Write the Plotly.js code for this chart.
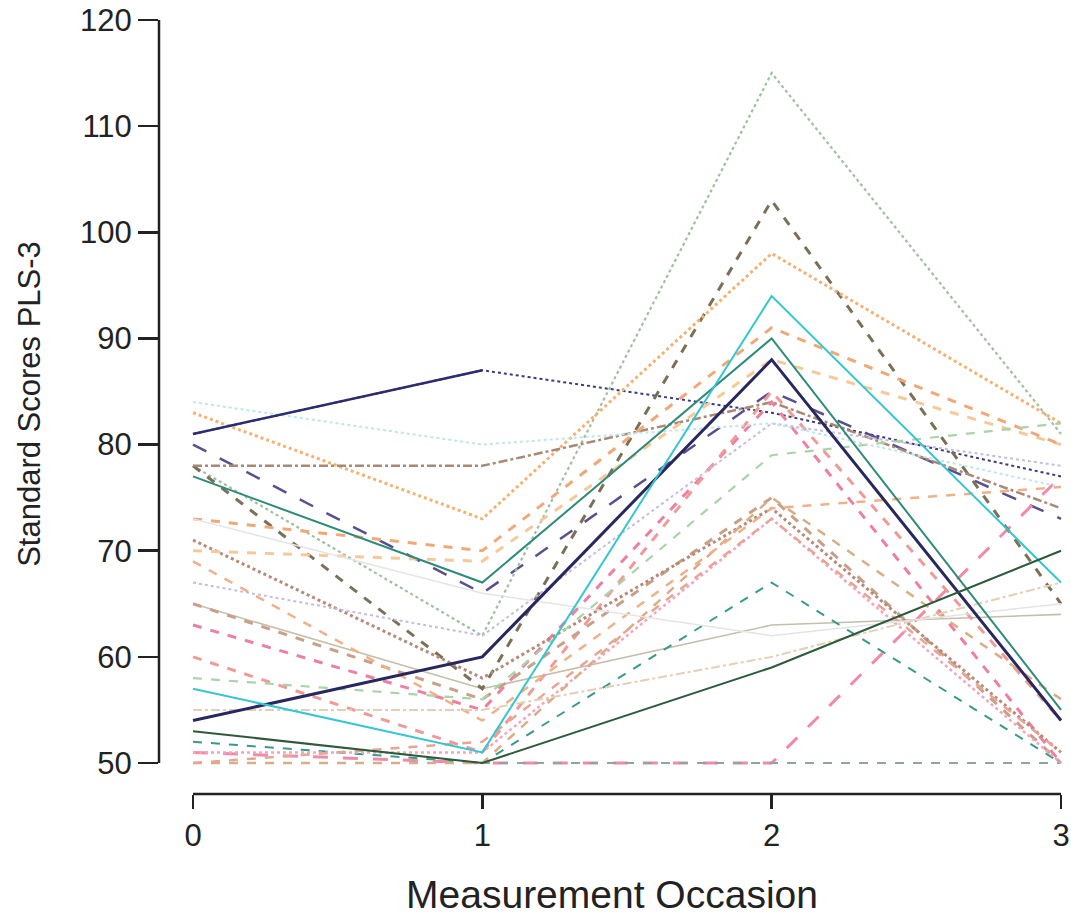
<!DOCTYPE html>
<html>
<head>
<meta charset="utf-8">
<script src="https://cdn.plot.ly/plotly-3.0.1.min.js"></script>
<style>html,body{margin:0;padding:0;background:#fff;}#chart{width:1071px;height:916px;}</style>
</head>
<body>
<div id="chart"></div>
<script>
// Measurement occasions (x)
const occasions = [0, 1, 2, 3];
const yTicks = [50, 60, 70, 80, 90, 100, 110, 120];

// Individual trajectories: standard scores PLS-3 at occasions 0..3
const s01 = [81, 87, null, null];
const s02 = [81, 87, 83, 77];
const s03 = [54, 60, 88, 54];
const s04 = [80, 66, 85, 73];
const s05 = [77, 67, 90, 55];
const s06 = [57, 51, 94, 67];
const s07 = [53, 50, 59, 70];
const s08 = [65, 57, 63, 64];
const s09 = [52, 50, 67, 50];
const s10 = [51, 50, 50, 77];
const s11 = [50, 50, 50, 50];
const s12 = [78, 62, 115, 81];
const s13 = [78, 57, 103, 65];
const s14 = [83, 73, 98, 82];
const s15 = [78, 78, 84, 74];
const s16 = [63, 55, 84, 50];
const s17 = [60, 51, 85, 54];
const s18 = [65, 56, 75, 50];
const s19 = [71, 58, 74, 51];
const s20 = [67, 62, 82, 78];
const s21 = [70, 69, 88, 80];
const s22 = [73, 70, 91, 80];
const s23 = [58, 56, 79, 82];
const s24 = [51, 51, 73, 50];
const s25 = [50, 50, 75, 56];
const s26 = [50, 52, 73, 51];
const s27 = [84, 80, 82, 76];
const s28 = [69, 54, 74, 76];
const s29 = [55, 55, 60, 67];
const s30 = [73, 66, 62, 65];

const series = [s01,s02,s03,s04,s05,s06,s07,s08,s09,s10,s11,s12,s13,s14,s15,
                s16,s17,s18,s19,s20,s21,s22,s23,s24,s25,s26,s27,s28,s29,s30];

// styles (separate from data)
const colors = ['#2c2c6e','#3a3a80','#28285e','#5a4f8e','#2e8b7a','#36c6d0','#2d5a3a','#c4beaa',
                '#3a9a8a','#f08aa8','#8fa5a5','#9fbf9f','#7a7058','#f2b272','#a88a74',
                '#ee7fa0','#f09a98','#c8a088','#b58a78','#c4bce2','#f7c898','#f0a878','#a8d4a8',
                '#f2a6bc','#d8ae86','#e8a494','#bfe6e8','#f0b088','#e2d0b6','#e4e4e4'];
const dashes = ['solid','dot','solid','longdash','solid','solid','solid','solid',
                'dash','longdash','dash','dot','dash','dot','dashdot',
                'dash','dash','dash','dot','dot','dash','dash','dash',
                'dot','dash','dash','dot','dash','dashdot','solid'];
const widths = [2.5,2,3,2.5,2,2,2,1.6,
                2,3,2,2.2,3,3,2.5,
                3,3,3,3,2,3,3,2.2,
                2.5,2.5,2.5,2,2.5,2,1.5];

const traces = series.map((vals, i) => ({
  x: occasions, y: vals, type: 'scatter', mode: 'lines',
  connectgaps: false, showlegend: false, hoverinfo: 'skip',
  line: {color: colors[i], dash: dashes[i], width: widths[i]}
}));
// draw light ones first so dark solids stay on top
const order = traces.map((t, i) => i).sort((a, b) => {
  const rank = i => (dashes[i] === 'solid' && widths[i] >= 2) ? 1 : 0;
  return rank(a) - rank(b);
});
const data = order.map(i => traces[i]);

const axisColor = '#222';
const layout = {
  width: 1071, height: 916,
  margin: {l: 159, r: 6, t: 14, b: 122},
  paper_bgcolor: '#fff', plot_bgcolor: '#fff',
  font: {family: 'Liberation Sans, Arial, sans-serif', color: '#222'},
  xaxis: {
    range: [-0.1175, 3.0138], tickvals: occasions, ticktext: occasions.map(String),
    ticks: 'outside', ticklen: 14, tickwidth: 2.5, tickcolor: axisColor,
    showline: false, zeroline: false, showgrid: false,
    tickfont: {size: 31, color: '#222'},
    title: {text: 'Measurement Occasion', font: {size: 39, color: '#222'}, standoff: 30}
  },
  yaxis: {
    range: [47.08, 120.565], tickvals: yTicks, ticktext: yTicks.map(String),
    ticks: 'outside', ticklen: 20, tickwidth: 2.5, tickcolor: axisColor,
    showline: false, zeroline: false, showgrid: false,
    tickfont: {size: 31, color: '#222'},
    title: {text: 'Standard Scores PLS-3', font: {size: 31, color: '#222'}, standoff: 30}
  },
  shapes: [
    {type: 'line', xref: 'paper', yref: 'y', x0: 0, x1: 0, y0: yTicks[0], y1: yTicks[yTicks.length-1],
     line: {color: axisColor, width: 2.5}},
    {type: 'line', xref: 'x', yref: 'paper', x0: occasions[0], x1: occasions[occasions.length-1], y0: 0, y1: 0,
     line: {color: axisColor, width: 2.5}}
  ]
};

Plotly.newPlot('chart', data, layout, {displayModeBar: false, staticPlot: true});
</script>
</body>
</html>
